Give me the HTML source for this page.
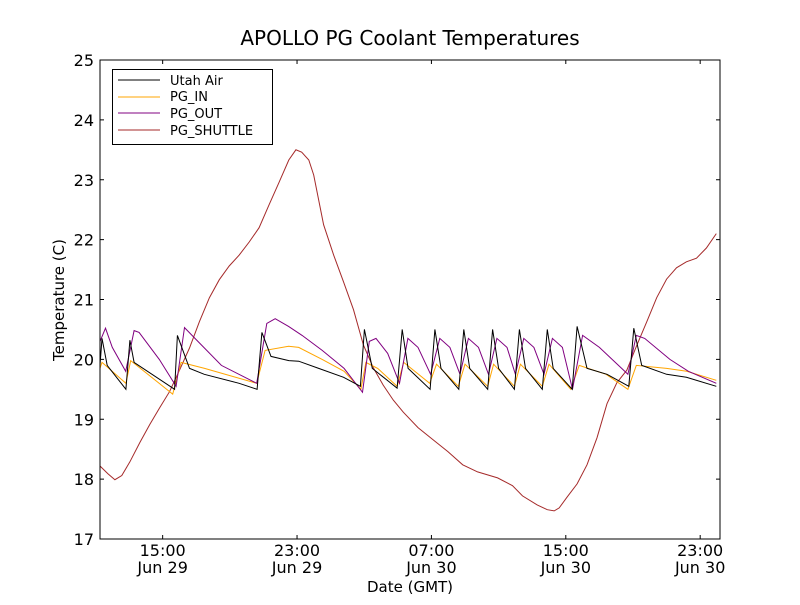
<!DOCTYPE html>
<html><head><meta charset="utf-8"><style>
body{margin:0;background:#fff;font-family:"Liberation Sans","DejaVu Sans",sans-serif}
svg text{font-family:"DejaVu Sans","Liberation Sans",sans-serif}
</style></head><body>
<svg id="chart" width="800" height="600" xmlns="http://www.w3.org/2000/svg">
<rect width="800" height="600" fill="#fff"/>
<text x="410" y="45" font-size="20" text-anchor="middle">APOLLO PG Coolant Temperatures</text>
<text x="64" y="300" font-size="15" text-anchor="middle" transform="rotate(-90 64 300)">Temperature (C)</text>
<text x="410" y="592" font-size="15" text-anchor="middle">Date (GMT)</text>
<g id="plot"></g>
<rect x="100" y="60" width="620" height="479" fill="none" stroke="#000" stroke-width="1"/>
<g>
<rect x="112.5" y="69.5" width="160" height="75" fill="#fff" stroke="#000"/>
<line x1="118" x2="160" y1="80" y2="80" stroke="#000"/><text x="170" y="85" font-size="13">Utah Air</text>
<line x1="118" x2="160" y1="97" y2="97" stroke="#ffa500"/><text x="170" y="101" font-size="13">PG_IN</text>
<line x1="118" x2="160" y1="113" y2="113" stroke="#800080"/><text x="170" y="118" font-size="13">PG_OUT</text>
<line x1="118" x2="160" y1="130" y2="130" stroke="#a52a2a"/><text x="170" y="135" font-size="13">PG_SHUTTLE</text>
</g>
</svg>
<script>
const yTicks=[17,18,19,20,21,22,23,24,25];
const xTickHours=[15,23,31,39,47];
const xTickTimes=["15:00","23:00","07:00","15:00","23:00"];
const xTickDates=["Jun 29","Jun 29","Jun 30","Jun 30","Jun 30"];
const utahAir=[[11.27,19.9],[11.39,20.35],[11.7,19.9],[12.81,19.5],[13.05,20.32],[13.3,19.95],[15.71,19.5],[15.88,20.4],[16.6,19.85],[17.48,19.75],[19.55,19.6],[20.62,19.5],[20.91,20.45],[21.45,20.05],[22.51,19.98],[23.1,19.97],[24.29,19.85],[25.77,19.7],[26.77,19.55],[27.01,20.5],[27.48,19.85],[28.96,19.52],[29.26,20.5],[29.61,19.85],[30.92,19.5],[31.21,20.5],[31.57,19.85],[32.63,19.5],[32.93,20.5],[33.28,19.85],[34.35,19.5],[34.64,20.5],[35.0,19.85],[35.94,19.5],[36.24,20.5],[36.6,19.85],[37.6,19.5],[37.9,20.5],[38.25,19.85],[39.38,19.5],[39.67,20.55],[40.26,19.85],[41.45,19.75],[42.75,19.55],[43.05,20.52],[43.52,19.9],[45.0,19.75],[46.18,19.7],[47.96,19.55]];
const pgIn=[[11.27,19.85],[11.39,19.95],[12.81,19.6],[13.1,19.98],[15.6,19.42],[16.1,19.95],[17.5,19.85],[20.6,19.6],[21.1,20.15],[22.5,20.22],[23.1,20.2],[24.5,20.0],[25.8,19.8],[26.8,19.5],[27.1,19.95],[27.8,19.85],[28.96,19.55],[29.35,19.95],[30.9,19.6],[31.3,19.92],[32.6,19.55],[33.0,19.92],[34.35,19.55],[34.7,19.92],[35.94,19.55],[36.3,19.92],[37.6,19.55],[38.0,19.92],[39.3,19.5],[39.8,19.9],[41.4,19.75],[42.7,19.5],[43.2,19.9],[45.0,19.85],[46.2,19.8],[47.96,19.65]];
const pgOut=[[11.27,20.3],[11.6,20.52],[12.0,20.2],[12.8,19.8],[13.3,20.48],[13.6,20.45],[14.8,20.0],[15.8,19.55],[16.3,20.53],[17.1,20.3],[18.5,19.9],[20.6,19.6],[21.2,20.6],[21.7,20.68],[22.5,20.55],[23.3,20.4],[24.5,20.15],[25.8,19.85],[26.9,19.45],[27.3,20.3],[27.7,20.35],[28.4,20.1],[29.1,19.6],[29.6,20.35],[30.2,20.2],[30.95,19.75],[31.5,20.35],[32.1,20.2],[32.7,19.75],[33.2,20.35],[33.8,20.2],[34.4,19.75],[34.9,20.35],[35.5,20.2],[36.0,19.75],[36.5,20.35],[37.1,20.2],[37.7,19.75],[38.2,20.35],[38.8,20.2],[39.4,19.5],[40.0,20.4],[41.0,20.2],[42.7,19.75],[43.2,20.4],[43.7,20.35],[45.2,20.0],[46.3,19.8],[47.96,19.6]];
const pgShuttle=[[11.27,18.22],[11.74,18.09],[12.16,17.99],[12.57,18.06],[13.05,18.29],[13.64,18.61],[14.23,18.91],[14.82,19.19],[15.41,19.46],[16.0,19.82],[16.6,20.19],[17.19,20.63],[17.78,21.03],[18.37,21.33],[18.96,21.56],[19.55,21.74],[20.15,21.96],[20.74,22.2],[21.33,22.58],[21.92,22.95],[22.51,23.33],[22.93,23.5],[23.28,23.46],[23.7,23.33],[23.99,23.08],[24.29,22.66],[24.58,22.25],[25.18,21.74],[25.77,21.29],[26.36,20.83],[26.95,20.24],[27.54,19.86],[28.13,19.57],[28.73,19.32],[29.32,19.12],[30.2,18.86],[31.09,18.66],[31.98,18.46],[32.86,18.24],[33.75,18.12],[34.94,18.02],[35.83,17.89],[36.42,17.72],[37.3,17.57],[37.9,17.49],[38.31,17.47],[38.61,17.52],[39.08,17.7],[39.67,17.92],[40.26,18.24],[40.86,18.69],[41.45,19.26],[42.04,19.61],[42.63,19.82],[43.22,20.23],[43.82,20.63],[44.41,21.03],[45.0,21.34],[45.59,21.53],[46.18,21.63],[46.78,21.69],[47.37,21.86],[47.96,22.1]];
const X0=11.27,X1=48.18,Y0=17,Y1=25;
function sx(h){return 100+(h-X0)/(X1-X0)*620;}
function sy(v){return 539-(v-Y0)/(Y1-Y0)*479;}
const NS="http://www.w3.org/2000/svg";
const g=document.getElementById('plot');
function mk(t,a){const e=document.createElementNS(NS,t);for(const k in a)e.setAttribute(k,a[k]);return e;}
yTicks.forEach(v=>{const y=sy(v);
 const l1=mk('line',{x1:100,x2:104,y1:y,y2:y,stroke:'#000'});
 
 g.appendChild(l1);
 const l2=mk('line',{x1:716,x2:720,y1:y,y2:y,stroke:'#000'});
 
 g.appendChild(l2);
 const t=mk('text',{x:94,y:y+6,'font-size':16,'text-anchor':'end'});t.textContent=v;
 
 g.appendChild(t);});
xTickHours.forEach((h,i)=>{const x=sx(h);
 const l1=mk('line',{x1:x,x2:x,y1:535,y2:539,stroke:'#000'});
 
 g.appendChild(l1);
 const l2=mk('line',{x1:x,x2:x,y1:60,y2:64,stroke:'#000'});
 
 g.appendChild(l2);
 const t=mk('text',{x:x,y:556,'font-size':16,'text-anchor':'middle'});t.textContent=xTickTimes[i];
 
 g.appendChild(t);
 const d=mk('text',{x:x,y:573,'font-size':16,'text-anchor':'middle'});d.textContent=xTickDates[i];
 
 g.appendChild(d);});
function series(data,color,name){
 const p=mk('polyline',{points:data.map(d=>sx(d[0]).toFixed(1)+','+sy(d[1]).toFixed(1)).join(' '),fill:'none',stroke:color,'stroke-width':1});
 
 g.appendChild(p);}
series(pgShuttle,'#a52a2a','pg-shuttle-line');
series(pgIn,'#ffa500','pg-in-line');
series(pgOut,'#800080','pg-out-line');
series(utahAir,'#000','utah-air-line');
</script>
</body></html>
